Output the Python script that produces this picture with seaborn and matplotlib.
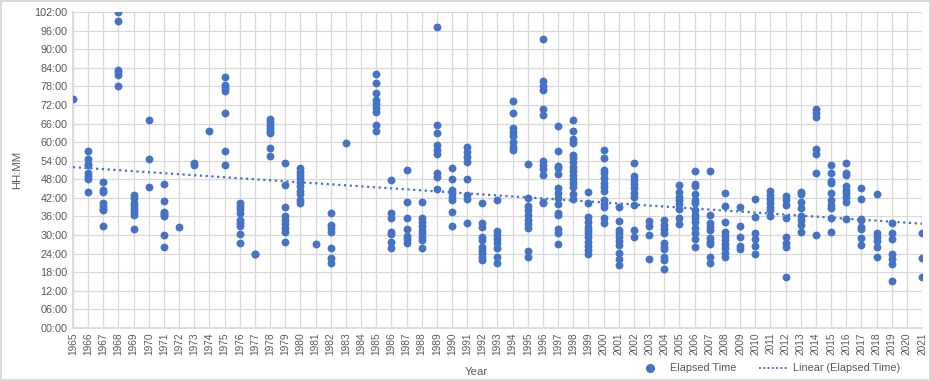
import numpy as np
import pandas as pd
import seaborn as sns
from matplotlib import pyplot as plt
from matplotlib.lines import Line2D
from matplotlib.ticker import FuncFormatter


years_60s = [1965, 1966, 1967, 1968, 1969]
times_60s = [
    [74],
    [57, 54.5, 53, 52.5, 50, 49, 48, 44],
    [47, 44.5, 44, 40.5, 39.5, 38.5, 38, 33],
    [102, 99, 83.3, 82.5, 81.7, 78.2],
    [43, 42, 40.5, 39.5, 38.5, 37.5, 36.5, 32],
]

years_70s = [1970, 1971, 1972, 1973, 1974, 1975, 1976, 1977, 1978, 1979]
times_70s = [
    [67.3, 54.5, 45.5],
    [46.5, 41, 37.5, 37, 36.5, 36, 30, 26],
    [32.7],
    [53.2, 52.7],
    [63.7],
    [81, 78.5, 77.5, 76.5, 69.5, 57, 52.5],
    [40.5, 39.5, 38.5, 37, 35, 34, 33, 30.5, 27.5],
    [24, 23.8],
    [67.5, 66.5, 65.5, 64.5, 63.5, 63, 58, 55.6],
    [53.2, 46, 39.2, 36.2, 34.9, 33.6, 32.2, 31.1, 27.9],
]

years_80s = [1980, 1981, 1982, 1983, 1984, 1985, 1986, 1987, 1988, 1989]
times_80s = [
    [51.5, 50.5, 49.4, 48.3, 47.2, 45.8, 44.3, 43.3, 41.3, 40.5],
    [27.2],
    [37, 33.2, 32.2, 31.1, 25.9, 22.7, 21.1],
    [59.8],
    [],
    [81.9, 79.2, 75.7, 73.6, 72.3, 70.9, 69.8, 65.5, 63.7],
    [47.9, 37, 35.4, 31.1, 30.3, 27.9, 25.9],
    [51.1, 40.6, 35.4, 31.8, 29.7, 28.6, 27.5],
    [40.6, 35.4, 34.3, 32.9, 31.6, 30.6, 29.5, 28.4, 25.9],
    [97.3, 65.6, 63, 59, 57.5, 56.2, 50.1, 48.8, 45],
]

years_90s = [1990, 1991, 1992, 1993, 1994, 1995, 1996, 1997, 1998, 1999]
times_90s = [
    [51.6, 48.2, 44.5, 43.5, 42.4, 41.3, 37.6, 33],
    [58.5, 56.9, 55.3, 53.7, 48.1, 42.9, 41.5, 34],
    [40.5, 34, 32.7, 29.5, 28.4, 26.3, 25.2, 24.1, 23, 21.9],
    [41.2, 31.4, 30, 28.6, 27.3, 25.7, 23, 20.9],
    [73.4, 69.3, 64.5, 63.4, 62, 60.1, 58.5, 57.5],
    [52.8, 41.9, 39.4, 38.1, 36.5, 34.9, 33.6, 32.2, 25, 22.8],
    [93.2, 79.7, 78.1, 76.8, 70.6, 68.8, 54, 52.6, 51.2, 49.4, 40.8, 40.2],
    [65.1, 57.2, 52.4, 51.5, 49.6, 45.1, 43.7, 41.9, 40, 37, 36.5, 31.8, 30.6, 27],
    [67, 63.5, 60.9, 59.6, 55.8, 54.8, 53.5, 52.1, 50.8, 49.4, 48.1, 46.7, 45.6, 43.3, 41.6],
    [44, 40.5, 35.9, 34.3, 32.7, 31.6, 30.6, 29.3, 27.9, 26.5, 25.2, 23.9],
]

years_00s = [2000, 2001, 2002, 2003, 2004, 2005, 2006, 2007, 2008, 2009]
times_00s = [
    [57.3, 55, 51, 50.1, 48.3, 46.9, 45.6, 44.3, 41.3, 40, 39, 35.4, 34],
    [39.2, 34.6, 31.6, 30.6, 29.5, 28.2, 26.8, 24.1, 22.2, 20.3],
    [53.4, 49.1, 47.8, 46.5, 45.1, 43.7, 42.4, 39.8, 31.6, 29.3],
    [34.6, 32.9, 30, 22.2],
    [34.9, 33.2, 31.8, 30.6, 27.3, 26.3, 25.4, 23, 21.9, 18.9],
    [46, 44, 42.4, 41.3, 40, 38.3, 35.4, 33.6],
    [50.8, 46.6, 45.7, 43.1, 41.4, 40.2, 38, 36.5, 35.4, 34.3, 32.2, 30.6, 28.6, 26],
    [50.8, 36.5, 34, 32.7, 31.6, 28.9, 27.9, 27.1, 23, 20.9],
    [43.5, 39.5, 34.3, 31.1, 29.7, 28.4, 27.1, 25.7, 24.3, 23],
    [39.2, 33, 29.5, 26.5, 25.4],
]

years_10s = [2010, 2011, 2012, 2013, 2014, 2015, 2016, 2017, 2018, 2019, 2020, 2021]
times_10s = [
    [41.5, 35.9, 30.8, 28.6, 26.6, 23.8],
    [44.2, 42.9, 41.5, 40.5, 39.2, 38.1, 36.2],
    [42.6, 41.3, 39.6, 35.6, 29.5, 27.3, 26, 16.4],
    [44, 43.3, 40.8, 38.6, 36.2, 34.9, 33.2, 31.1],
    [70.6, 69.3, 68, 57.7, 56.2, 50.1, 30],
    [52.7, 49.9, 47.6, 46.7, 43.5, 41.3, 39.6, 38.6, 35.6, 30.9],
    [53.2, 49.9, 49.4, 45.8, 44.5, 43.5, 42.2, 40.8, 35.2],
    [45.3, 41.5, 35.2, 34.9, 32.7, 31.8, 28.9, 26.8],
    [43.1, 30.8, 29.5, 28.2, 26.3, 23],
    [34, 30.8, 28.6, 23.9, 22.2, 20.7, 15.3],
    [],
    [30.8, 22.7, 16.6],
]


def to_frame():
    rows = []
    groups = [(years_60s, times_60s), (years_70s, times_70s), (years_80s, times_80s),
              (years_90s, times_90s), (years_00s, times_00s), (years_10s, times_10s)]
    for yrs, tms in groups:
        for yr, vals in zip(yrs, tms):
            for v in vals:
                rows.append((yr, v))
    return pd.DataFrame(rows, columns=["Year", "Hours"])


df = to_frame()

sns.set_theme(style="whitegrid")
plt.rcParams['font.family'] = ['Liberation Sans', 'DejaVu Sans']

blue = "#4472C4"
grey_text = "#595959"
grid = "#D9D9D9"

fig = plt.figure(figsize=(9.31, 3.81), dpi=100)
fig.patch.set_edgecolor(grid)
fig.patch.set_linewidth(1.5)
ax = fig.add_axes([73 / 931, 1 - 328 / 381, (922 - 73) / 931, (328 - 12) / 381])

sns.scatterplot(data=df, x="Year", y="Hours", ax=ax, color=blue, s=32,
                edgecolor=blue, linewidth=0, zorder=3)
sns.regplot(data=df, x="Year", y="Hours", ax=ax, scatter=False, ci=None,
            line_kws=dict(color=blue, linestyle=(0, (1, 1.6)), linewidth=1.6, zorder=4))

ax.set_xlim(1965, 2021)
ax.set_ylim(0, 102)
ax.set_xticks(range(1965, 2022))
ax.set_xticklabels([str(y) for y in range(1965, 2022)], rotation=90)
ax.set_yticks(range(0, 103, 6))
ax.yaxis.set_major_formatter(FuncFormatter(lambda v, p: f"{int(v):02d}:00"))
ax.tick_params(axis='y', length=0, labelsize=7.8, colors=grey_text, pad=4)
ax.tick_params(axis='x', length=0, labelsize=7.3, colors=grey_text, pad=3)
ax.grid(True, color=grid, linewidth=0.9)
for side in ax.spines:
    ax.spines[side].set_visible(False)
ax.spines['bottom'].set_visible(True)
ax.spines['bottom'].set_color(grid)
ax.spines['left'].set_visible(True)
ax.spines['left'].set_color(grid)

ax.set_xlabel("Year", fontsize=8.2, color=grey_text)
ax.xaxis.set_label_coords(0.475, -0.122)
ax.set_ylabel("HH:MM", fontsize=8.2, color=grey_text, labelpad=9)

handles = [Line2D([], [], marker='o', linestyle='none', color=blue, markersize=5.5),
           Line2D([], [], color=blue, linestyle=(0, (1, 1.2)), linewidth=1.4)]
fig.legend(handles, ["Elapsed Time", "Linear (Elapsed Time)"], loc='center',
           bbox_to_anchor=(0.825, 0.033), ncol=2, frameon=False, fontsize=7.8,
           labelcolor=grey_text, handlelength=2.6, columnspacing=2.0, handletextpad=0.6)

fig.savefig("out.png", dpi=100)
